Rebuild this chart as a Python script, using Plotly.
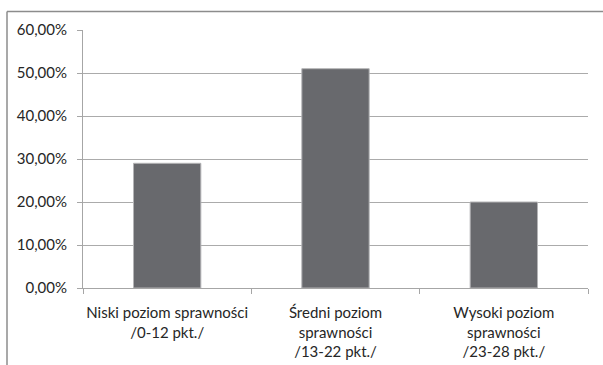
import plotly.graph_objects as go

# Fitness level groups and their share of respondents
categories = [
    "Niski poziom sprawności<br>/0-12 pkt./",
    "Średni poziom<br>sprawności<br>/13-22 pkt./",
    "Wysoki poziom<br>sprawności<br>/23-28 pkt./",
]
shares = [0.29, 0.51, 0.20]
y_ticks = [0, 0.1, 0.2, 0.3, 0.4, 0.5, 0.6]

W, H = 603, 365
ML, MR, MT, MB = 83, 15, 30, 77

fig = go.Figure(
    go.Bar(
        x=categories,
        y=shares,
        marker=dict(color="#68696d", line=dict(color="#b4b4b6", width=1)),
        hoverinfo="skip",
    )
)

font = dict(family="Lato, 'Open Sans', sans-serif", size=15, color="#262626")

fig.update_layout(
    width=W,
    height=H,
    margin=dict(l=ML, r=MR, t=MT, b=MB, pad=0),
    paper_bgcolor="white",
    plot_bgcolor="white",
    separators=", ",
    bargap=0.6,
    showlegend=False,
    font=font,
    xaxis=dict(
        type="category",
        showgrid=False,
        showline=True,
        linecolor="#a6a6a6",
        linewidth=1,
        ticks="outside",
        tickson="boundaries",
        ticklen=5,
        tickcolor="#a6a6a6",
        tickfont=font,
        tickangle=0,
        ticklabelstandoff=11,
        automargin=False,
        fixedrange=True,
    ),
    yaxis=dict(
        range=[0, 0.6],
        tickvals=y_ticks,
        tickformat=".2%",
        showgrid=True,
        gridcolor="#ababab",
        gridwidth=1,
        showline=True,
        linecolor="#a6a6a6",
        linewidth=1,
        ticks="outside",
        ticklen=5,
        tickcolor="#a6a6a6",
        tickfont=font,
        ticklabelstandoff=7,
        automargin=False,
        zeroline=False,
        fixedrange=True,
    ),
)

# Chart-area frame (left and top edges; the rest runs past the page)
px_x = lambda p: (p - ML) / (W - ML - MR)
px_y = lambda p: (H - MB - p) / (H - MT - MB)
frame = dict(color="#8c8c8c", width=1.5)
fig.add_shape(type="line", xref="paper", yref="paper",
              x0=px_x(7), x1=px_x(7), y0=px_y(11.5), y1=px_y(H + 5), line=frame)
fig.add_shape(type="line", xref="paper", yref="paper",
              x0=px_x(7), x1=px_x(W + 5), y0=px_y(11.5), y1=px_y(11.5), line=frame)

fig.write_html("out.html", config=dict(displayModeBar=False))
